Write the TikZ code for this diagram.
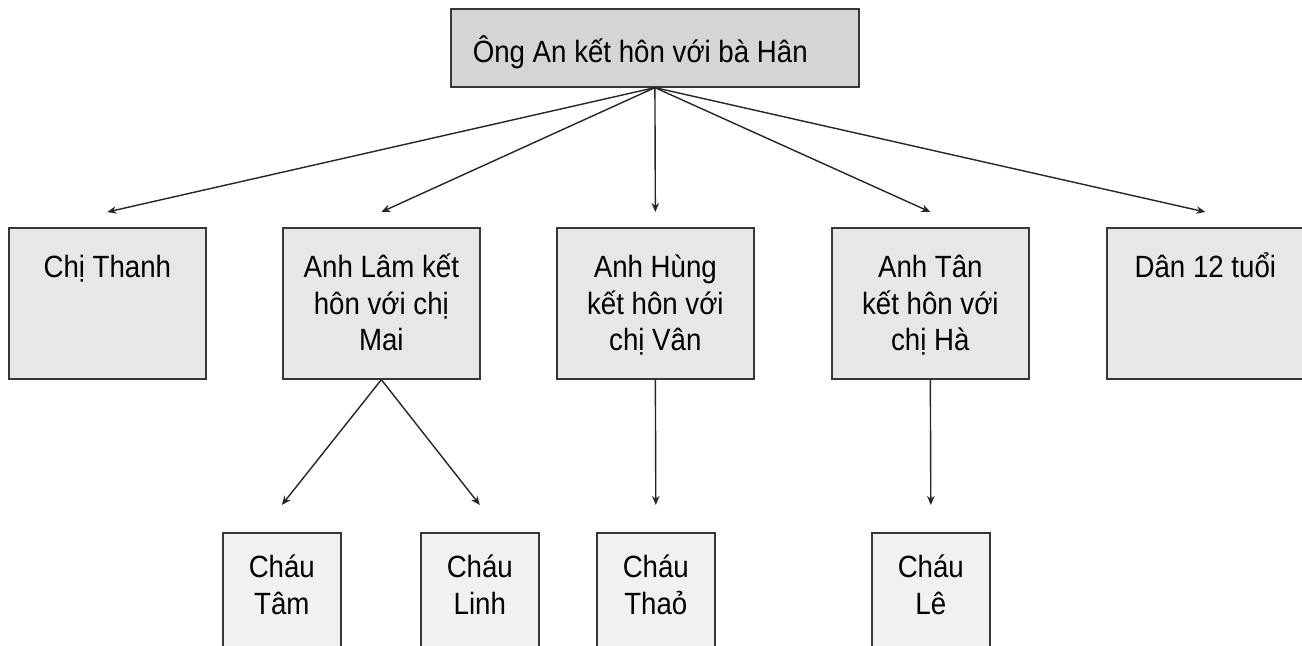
\documentclass[tikz,border=0pt]{standalone}
\usepackage{fontspec}
\setmainfont[FakeStretch=0.9]{Liberation Sans}
\usetikzlibrary{arrows.meta}

\definecolor{topfill}{RGB}{212,213,215}
\definecolor{midfill}{RGB}{230,231,232}
\definecolor{lowfill}{RGB}{241,241,241}
\definecolor{edge}{RGB}{55,55,55}

% text set from the top of a fixed box
\newcommand{\celltext}[3]{\parbox[t][#2][t]{#1}{\centering\rule{0pt}{0.50cm}#3}}
\newcommand{\lowtext}[3]{\parbox[t][#2][t]{#1}{\centering\rule{0pt}{0.45cm}#3}}
\newcommand{\headtext}[3]{\parbox[t][#2][t]{#1}{\hspace*{0.22cm}\rule{0pt}{0.54cm}#3}}

\begin{document}
\begin{tikzpicture}[x=0.01cm, y=-0.01cm,
    box/.style={draw=edge, line width=0.45pt, inner sep=0pt, anchor=north west},
    link/.style={draw=black!85, line width=0.4pt, -{Stealth[length=0.9mm, width=0.75mm]}},
    font=\fontsize{8.74}{10.4}\selectfont]
    \clip (0,0) rectangle (1302,646);
    % parents
    \node [box, fill=topfill] (an) at (450,8) {\headtext{4.08cm}{0.78cm}{Ông An kết hôn với bà Hân}};
    % children
    \node [box, fill=midfill] (thanh) at (8,227) {\celltext{1.97cm}{1.51cm}{Chị Thanh}};
    \node [box, fill=midfill] (lam) at (282,227) {\celltext{1.97cm}{1.51cm}{Anh Lâm kết\\hôn với chị\\Mai}};
    \node [box, fill=midfill] (hung) at (556,227) {\celltext{1.97cm}{1.51cm}{Anh Hùng\\kết hôn với\\chị Vân}};
    \node [box, fill=midfill] (tan) at (831,227) {\celltext{1.97cm}{1.51cm}{Anh Tân\\kết hôn với\\chị Hà}};
    \node [box, fill=midfill] (dan) at (1106,227) {\celltext{1.97cm}{1.51cm}{Dân 12 tuổi}};
    % grandchildren
    \node [box, fill=lowfill] (tam) at (222,532) {\lowtext{1.18cm}{1.30cm}{Cháu\\Tâm}};
    \node [box, fill=lowfill] (linh) at (420,532) {\lowtext{1.18cm}{1.30cm}{Cháu\\Linh}};
    \node [box, fill=lowfill] (thao) at (596,532) {\lowtext{1.18cm}{1.30cm}{Cháu\\Thaỏ}};
    \node [box, fill=lowfill] (le) at (871,532) {\lowtext{1.18cm}{1.30cm}{Cháu\\Lê}};
    % arrow ends
    \coordinate (thanhin) at ([yshift=0.15cm]thanh.north);
    \coordinate (lamin) at ([yshift=0.15cm]lam.north);
    \coordinate (hungin) at ([yshift=0.15cm]hung.north);
    \coordinate (tanin) at ([yshift=0.15cm]tan.north);
    \coordinate (danin) at ([yshift=0.15cm]dan.north);
    \coordinate (tamin) at ([yshift=0.27cm]tam.north);
    \coordinate (linhin) at ([yshift=0.27cm]linh.north);
    \coordinate (thaoin) at ([yshift=0.27cm]thao.north);
    \coordinate (lein) at ([yshift=0.27cm]le.north);
    \draw [link] (an.south) -- (thanhin);
    \draw [link] (an.south) -- (lamin);
    \draw [link] (an.south) -- (hungin);
    \draw [link] (an.south) -- (tanin);
    \draw [link] (an.south) -- (danin);
    \draw [link] (lam.south) -- (tamin);
    \draw [link] (lam.south) -- (linhin);
    \draw [link] (hung.south) -- (thaoin);
    \draw [link] (tan.south) -- (lein);
\end{tikzpicture}
\end{document}
